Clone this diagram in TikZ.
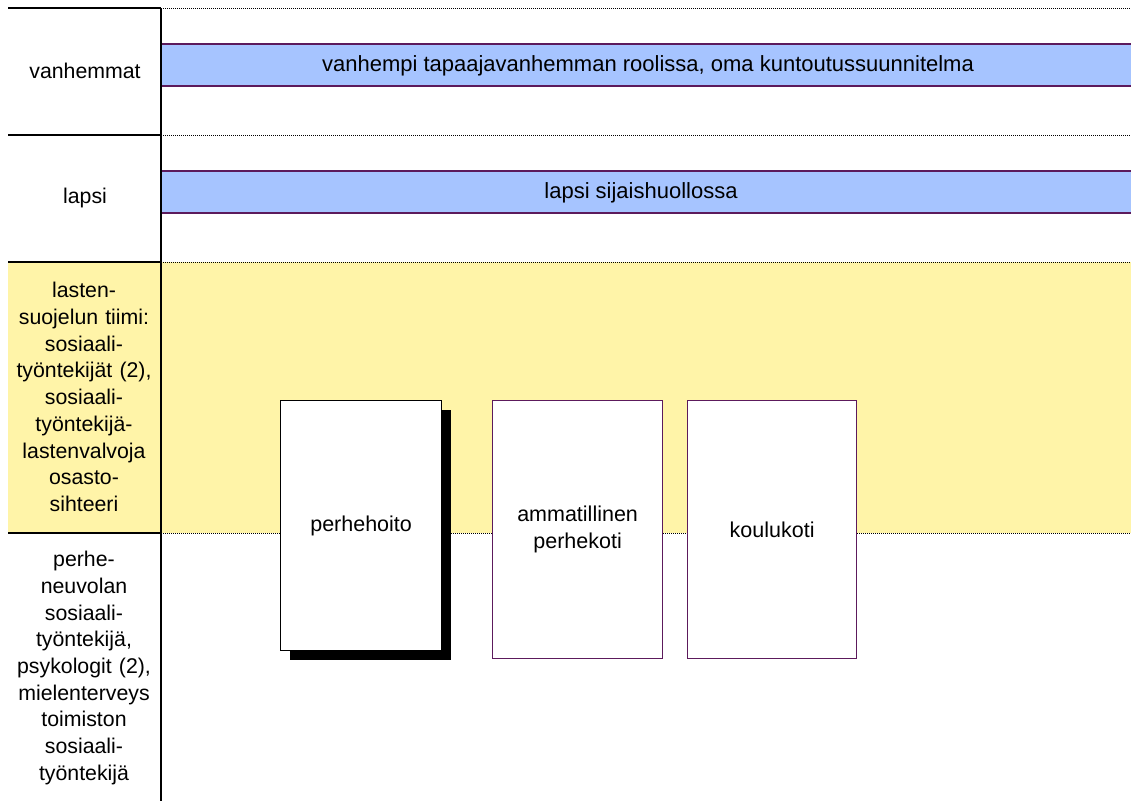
\documentclass[tikz,border=0pt]{standalone}
\usepackage{fontspec}
\setmainfont{Liberation Sans}
\usetikzlibrary{shadows}
\definecolor{barblue}{HTML}{A6C4FF}
\definecolor{barline}{HTML}{5C1A5C}
\definecolor{band}{HTML}{FFF4A8}
\begin{document}
\begin{tikzpicture}[x=1pt,y=-1pt,
  lbl/.style={font=\fontsize{21.3}{26.7}\selectfont, align=center, text width=152pt, inner sep=0pt},
  txt/.style={font=\fontsize{22}{26.7}\selectfont, align=center, inner sep=0pt},
  bar/.style={draw=barline, fill=barblue, line width=1.2pt},
  dots/.style={line width=1pt, dash pattern=on 1pt off 1pt},
  rule/.style={line width=1.5pt, black},
  placebox/.style={draw=barline, fill=white, line width=1.2pt, anchor=north west, inner sep=0pt,
    font=\fontsize{21.5}{26.7}\selectfont, align=center}
]
\useasboundingbox (0,0) rectangle (1131,801);
% yellow band
\fill[band] (8,262) rectangle (1131,533);
% dotted separators
\coordinate (d1a) at (161,8);   \coordinate (d1b) at (1131,8);
\coordinate (d2a) at (161,135); \coordinate (d2b) at (1131,135);
\coordinate (d3a) at (161,262); \coordinate (d3b) at (1131,262);
\coordinate (d4a) at (161,533); \coordinate (d4b) at (1131,533);
\draw[dots] (d1a) -- (d1b);
\draw[dots] (d2a) -- (d2b);
\draw[dots] (d3a) -- (d3b);
\draw[dots] (d4a) -- (d4b);
% bars
\draw[bar] (161,44) rectangle (1140,86);
\node[txt] (bar1) at (648,66) {vanhempi tapaajavanhemman roolissa, oma kuntoutussuunnitelma};
\draw[bar] (161,171) rectangle (1140,213);
\node[txt] (bar2) at (641,193) {lapsi sijaishuollossa};
% left column rules
\coordinate (l1) at (8,8);   \coordinate (r1) at (161,8);
\coordinate (l2) at (8,135); \coordinate (r2) at (161,135);
\coordinate (l3) at (8,262); \coordinate (r3) at (161,262);
\coordinate (l4) at (8,533); \coordinate (r4) at (161,533);
\coordinate (vb) at (161,801);
\draw[rule] (l1) -- (r1);
\draw[rule] (l2) -- (r2);
\draw[rule] (l3) -- (r3);
\draw[rule] (l4) -- (r4);
\draw[rule] (r1) -- (vb);
% left labels
\node[lbl] (vanh) at (85,71) {vanhemmat};
\node[lbl] (lapsi) at (85,198) {lapsi};
\node[lbl] (tiimi) at (84,397) {lasten-\\suojelun tiimi:\\sosiaali-\\työntekijät (2),\\sosiaali-\\työntekijä-\\lastenvalvoja\\osasto-\\sihteeri};
\node[lbl] (neuvola) at (84,668) {perhe-\\neuvolan\\sosiaali-\\työntekijä,\\psykologit (2),\\mielenterveys\\toimiston\\sosiaali-\\työntekijä};
% placement boxes
\node[placebox, draw=black, minimum width=161, minimum height=250,
  drop shadow={shadow xshift=9pt, shadow yshift=-9pt, opacity=1, fill=black}] (perhe) at (280,400) {perhehoito};
\node[placebox, minimum width=170, minimum height=258] (amm) at (492,400) {ammatillinen\\perhekoti};
\node[placebox, minimum width=169, minimum height=258] (koulu) at (687,400) {koulukoti};
\end{tikzpicture}
\end{document}
